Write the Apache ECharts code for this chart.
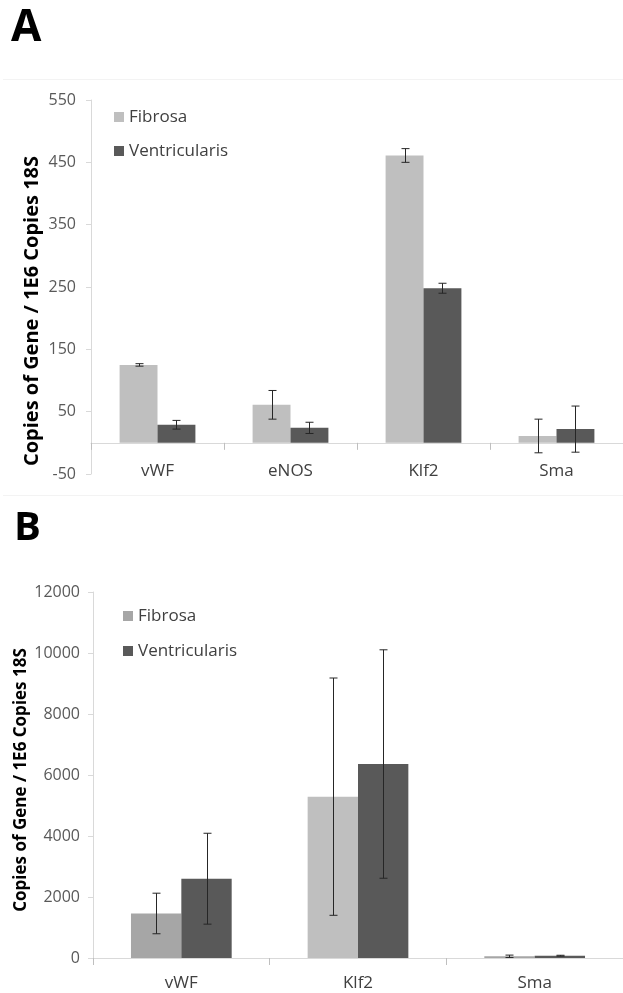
<!DOCTYPE html>
<html>
<head>
<meta charset="utf-8">
<script src="https://cdn.jsdelivr.net/npm/echarts@6/dist/echarts.min.js"></script>
<style>
  html, body { margin: 0; padding: 0; background: #fff; }
  #chart { width: 623px; height: 993px; }
</style>
</head>
<body>
<div id="chart"></div>
<script>
// panel A
const categoriesA = ['vWF', 'eNOS', 'Klf2', 'Sma'];
const fibrosaA = [125, 61, 461, 11];
const fibrosaErrA = [2, 23, 11, 27];
const ventricA = [29, 24, 248, 22];
const ventricErrA = [7, 9, 8, 37];
const yTicksA = [-50, 50, 150, 250, 350, 450, 550];

// panel B
const categoriesB = ['vWF', 'Klf2', 'Sma'];
const fibrosaB = [1460, 5290, 55];
const fibrosaErrB = [665, 3890, 40];
const ventricB = [2600, 6360, 75];
const ventricErrB = [1490, 3745, 15];

const FONT = 'Open Sans';
const GAP = 0.43;
const LIGHT = '#bfbfbf';
const MID = '#a6a6a6';
const DARK = '#595959';

function errorSeries(name, idx, values, errs, side) {
  return {
    type: 'custom',
    name: name,
    xAxisIndex: idx,
    yAxisIndex: idx,
    z: 10,
    silent: true,
    encode: { x: 0, y: [1, 2] },
    data: values.map((v, i) => [i, v - errs[i], v + errs[i]]),
    renderItem: (params, api) => {
      const i = api.value(0);
      const lo = api.coord([i, api.value(1)]);
      const hi = api.coord([i, api.value(2)]);
      const bw = api.size([1, 0])[0] * (1 - GAP) / 2;
      const x = Math.round(lo[0] + side * bw / 2) + 0.5;
      const cap = 4;
      const style = { stroke: '#262626', lineWidth: 1 };
      return {
        type: 'group',
        children: [
          { type: 'line', shape: { x1: x, y1: lo[1], x2: x, y2: hi[1] }, style },
          { type: 'line', shape: { x1: x - cap, y1: lo[1], x2: x + cap, y2: lo[1] }, style },
          { type: 'line', shape: { x1: x - cap, y1: hi[1], x2: x + cap, y2: hi[1] }, style }
        ]
      };
    }
  };
}

function catAxis(idx, data, margin) {
  return {
    type: 'category',
    gridIndex: idx,
    data: data,
    axisLine: { onZero: true, lineStyle: { color: '#d9d9d9', width: 1 } },
    axisTick: { show: true, length: 7, lineStyle: { color: '#bfbfbf' } },
    axisLabel: { margin: margin, fontSize: 17, color: '#404040', fontFamily: FONT },
    splitLine: { show: false }
  };
}

function legendAt(left, top, gap, fibColor) {
  return {
    left: left, top: top, padding: 0, orient: 'vertical', itemGap: gap,
    itemWidth: 10, itemHeight: 10, icon: 'rect', selectedMode: false,
    textStyle: { fontSize: 17, lineHeight: 20, color: '#404040', fontFamily: FONT },
    data: [
      { name: 'Fibrosa', itemStyle: { color: fibColor } },
      { name: 'Ventricularis', itemStyle: { color: DARK } }
    ]
  };
}

const chart = echarts.init(document.getElementById('chart'), null, { renderer: 'canvas' });

chart.setOption({
  backgroundColor: '#fff',
  animation: false,
  grid: [
    { left: 91, width: 538, top: 100, height: 374 },
    { left: 93, width: 530, top: 592, height: 366 }
  ],
  legend: [legendAt(114, 107, 14, LIGHT), legendAt(123, 606, 15, MID)],
  xAxis: [catAxis(0, categoriesA, -11), catAxis(1, categoriesB, 17)],
  yAxis: [
    {
      type: 'value', gridIndex: 0, min: -50, max: 550,
      axisLine: { show: true, lineStyle: { color: '#d9d9d9' } },
      axisTick: { show: true, length: 5, customValues: yTicksA, lineStyle: { color: '#d9d9d9' } },
      axisLabel: { customValues: yTicksA, margin: 15, fontSize: 16, color: DARK, fontFamily: FONT },
      splitLine: { show: false }
    },
    {
      type: 'value', gridIndex: 1, min: 0, max: 12000, interval: 2000,
      axisLine: { show: true, lineStyle: { color: '#d9d9d9' } },
      axisTick: { show: true, length: 5, lineStyle: { color: '#d9d9d9' } },
      axisLabel: { margin: 13, fontSize: 16, color: DARK, fontFamily: FONT, formatter: v => String(v) },
      splitLine: { show: false }
    }
  ],
  series: [
    {
      type: 'bar', name: 'Fibrosa', xAxisIndex: 0, yAxisIndex: 0,
      data: fibrosaA, itemStyle: { color: LIGHT },
      barGap: '0%', barCategoryGap: GAP * 100 + '%'
    },
    {
      type: 'bar', name: 'Ventricularis', xAxisIndex: 0, yAxisIndex: 0,
      data: ventricA, itemStyle: { color: DARK },
      barGap: '0%', barCategoryGap: GAP * 100 + '%'
    },
    {
      type: 'bar', name: 'Fibrosa', xAxisIndex: 1, yAxisIndex: 1,
      data: fibrosaB.map((v, i) => ({ value: v, itemStyle: { color: i === 1 ? LIGHT : MID } })),
      itemStyle: { color: MID },
      barGap: '0%', barCategoryGap: GAP * 100 + '%'
    },
    {
      type: 'bar', name: 'Ventricularis', xAxisIndex: 1, yAxisIndex: 1,
      data: ventricB, itemStyle: { color: DARK },
      barGap: '0%', barCategoryGap: GAP * 100 + '%'
    },
    errorSeries('errFibrosaA', 0, fibrosaA, fibrosaErrA, -1),
    errorSeries('errVentricA', 0, ventricA, ventricErrA, 1),
    errorSeries('errFibrosaB', 1, fibrosaB, fibrosaErrB, -1),
    errorSeries('errVentricB', 1, ventricB, ventricErrB, 1)
  ],
  graphic: [
    {
      type: 'text', left: 11, top: 6,
      style: { text: 'A', fontSize: 44, fontWeight: 'bold', fontFamily: 'Liberation Sans Narrow, Open Sans', fill: '#000' }
    },
    {
      type: 'text', left: 14, top: 509,
      style: { text: 'B', fontSize: 40, fontWeight: 'bold', fontFamily: 'Liberation Sans Narrow, Open Sans', fill: '#000' }
    },
    {
      type: 'text', x: 32, y: 311, rotation: Math.PI / 2,
      style: {
        text: 'Copies of Gene / 1E6 Copies 18S', fontSize: 20, fontWeight: 'bold',
        fontFamily: FONT, fill: '#000', align: 'center', verticalAlign: 'middle'
      }
    },
    {
      type: 'text', x: 21, y: 780, rotation: Math.PI / 2,
      style: {
        text: 'Copies of Gene / 1E6 Copies 18S', fontSize: 17, fontWeight: 'bold',
        fontFamily: FONT, fill: '#000', align: 'center', verticalAlign: 'middle'
      }
    },
    { type: 'line', shape: { x1: 3, y1: 79.5, x2: 623, y2: 79.5 }, style: { stroke: '#f3f3f3', lineWidth: 1 } },
    { type: 'line', shape: { x1: 3, y1: 495.5, x2: 623, y2: 495.5 }, style: { stroke: '#f3f3f3', lineWidth: 1 } }
  ]
});
</script>
</body>
</html>
